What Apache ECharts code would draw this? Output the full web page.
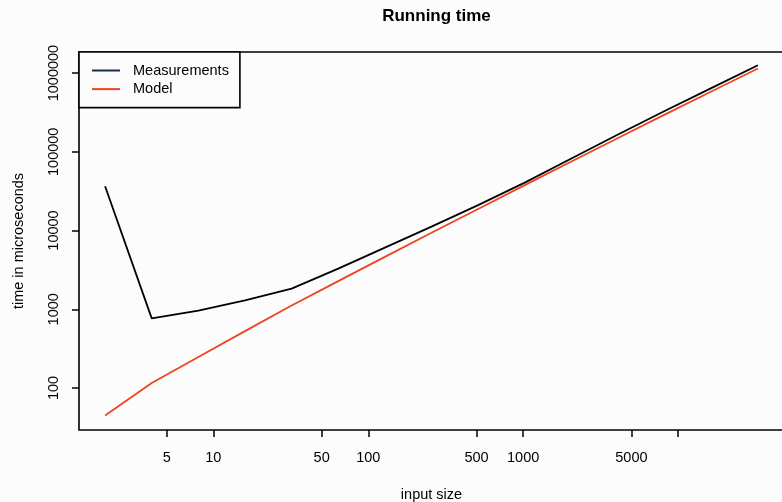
<!DOCTYPE html>
<html><head><meta charset="utf-8">
<script src="https://cdn.jsdelivr.net/npm/echarts@6/dist/echarts.min.js"></script>
<style>html,body{margin:0;padding:0;background:#fcfcfc}#c{width:782px;height:502px}</style>
</head><body><div id="c"></div>
<script>
const inputSizes = [2, 4, 8, 16, 32, 64, 128, 256, 512, 1024, 2048, 4096, 8192, 16384, 32768];
const measurements = [36500, 766, 960, 1300, 1830, 3280, 6060, 11200, 21000, 40600, 82000, 166000, 329000, 643000, 1256000];
const model = [44.9, 116, 248, 528, 1117, 2280, 4630, 9380, 18800, 37700, 75200, 149600, 296500, 583000, 1143000];
const xTickValues = [5, 10, 50, 100, 500, 1000, 5000, 10000];
const xLabelValues = [5, 10, 50, 100, 500, 1000, 5000];
const yTickValues = [100, 1000, 10000, 100000, 1000000];

const FONT = 'Liberation Sans, Arial, Helvetica, sans-serif';
const chart = echarts.init(document.getElementById('c'), null, {renderer: 'canvas'});
chart.setOption({
  backgroundColor: '#fcfcfc',
  animation: false,
  textStyle: {fontFamily: FONT, color: '#000'},
  title: {
    text: 'Running time', left: 431.5, top: 3, textAlign: 'center',
    textStyle: {fontFamily: FONT, fontSize: 17, fontWeight: 'bold', color: '#000'}
  },
  legend: {
    orient: 'vertical', left: 79, top: 52,
    padding: [11, 11, 11, 13],
    itemWidth: 28, itemHeight: 14, itemGap: 3.6,
    borderColor: '#000', borderWidth: 1.6,
    backgroundColor: '#fcfcfc',
    textStyle: {fontFamily: FONT, fontSize: 14.5, color: '#000', padding: [0, 0, 0, 8]},
    data: [
      {name: 'Measurements', icon: 'path://M0,0L28,0L28,2L0,2Z', itemStyle: {color: '#1a2b4c'}},
      {name: 'Model', icon: 'path://M0,0L28,0L28,2L0,2Z', itemStyle: {color: '#ee4422'}}
    ]
  },
  grid: {left: 79, right: -2, top: 52, bottom: 72, outerBoundsMode: 'none', containLabel: false,
    show: true, borderColor: '#000', borderWidth: 1.6, backgroundColor: 'transparent'},
  xAxis: {
    type: 'log', min: 1.357, max: 48300,
    name: 'input size', nameLocation: 'middle', nameGap: 57,
    nameTextStyle: {fontFamily: FONT, fontSize: 14.5, color: '#000'},
    axisLine: {show: false},
    axisTick: {show: true, inside: false, length: 7, lineStyle: {color: '#000', width: 1.5}, customValues: xTickValues},
    axisLabel: {fontFamily: FONT, fontSize: 14.5, color: '#000', margin: 20, customValues: xLabelValues,
      formatter: v => String(Math.round(v))},
    splitLine: {show: false}
  },
  yAxis: {
    type: 'log', min: 29.3, max: 1850000,
    name: 'time in microseconds', nameLocation: 'middle', nameGap: 53, nameRotate: 90,
    nameTextStyle: {fontFamily: FONT, fontSize: 14.5, color: '#000'},
    axisLine: {show: false},
    axisTick: {show: true, inside: false, length: 7, lineStyle: {color: '#000', width: 1.5}, customValues: yTickValues},
    axisLabel: {fontFamily: FONT, fontSize: 14.5, color: '#000', margin: 18, rotate: 90, customValues: yTickValues,
      formatter: v => String(Math.round(v))},
    splitLine: {show: false}
  },
  series: [
    {name: 'Measurements', type: 'line', symbol: 'none', color: '#000',
      lineStyle: {color: '#000', width: 1.8},
      data: inputSizes.map((n, i) => [n, measurements[i]])},
    {name: 'Model', type: 'line', symbol: 'none', color: '#ee4422',
      lineStyle: {color: '#ee4422', width: 1.8},
      data: inputSizes.map((n, i) => [n, model[i]])}
  ]
});
</script></body></html>
